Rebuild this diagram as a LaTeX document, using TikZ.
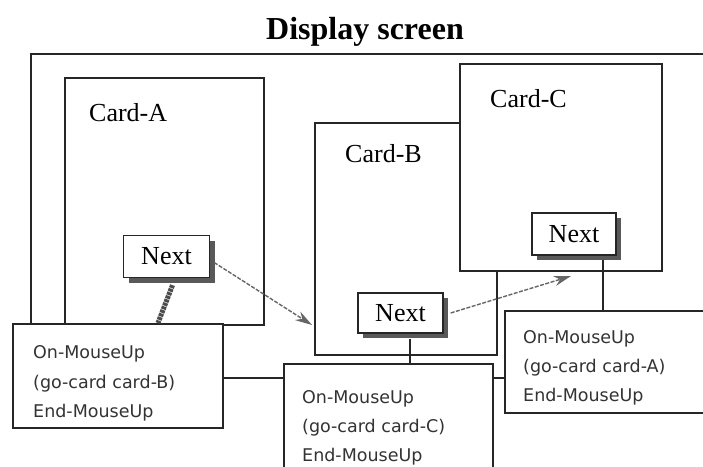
\documentclass[tikz,border=0pt]{standalone}
\usepackage{fontspec}
\setmainfont{Liberation Serif}
\newfontfamily\codefont{DejaVu Sans}
\usetikzlibrary{shadows,arrows.meta,calc}
\begin{document}
\begin{tikzpicture}[x=1pt,y=-1pt,
  frame/.style={draw=black!85,line width=1.7pt},
  box/.style={frame,fill=white,rectangle,inner sep=0pt,anchor=north west},
  btn/.style={draw=black!85,line width=1.3pt,fill=white,inner sep=0pt,minimum width=86pt,minimum height=42pt,
    font=\fontsize{26}{28}\selectfont,
    drop shadow={shadow xshift=5pt,shadow yshift=-5pt,fill=black!65,opacity=1}},
  lbl/.style={anchor=base west,inner sep=0pt,font=\fontsize{26}{28}\selectfont},
  code/.style={anchor=base west,inner sep=0pt,font=\codefont\fontsize{17.5}{19}\selectfont,text=black!80},
  link/.style={draw=black!60,line width=1.4pt,dash pattern=on 4pt off 1.5pt,
    -{Stealth[length=17pt,width=10pt]}},
  thickline/.style={draw=black!70,line width=5pt,dash pattern=on 3pt off 0.8pt},
  tie/.style={draw=black!85,line width=1.5pt},
]
\useasboundingbox (0,0) rectangle (703,466);
\clip (0,0) rectangle (703,466);
\fill[white] (0,0) rectangle (703,466);

% title
\node[font=\bfseries\fontsize{32}{34}\selectfont,anchor=base,inner sep=0pt] (title) at (365,39) {Display screen};

% display screen
\node[box,fill=none,minimum width=700pt,minimum height=324pt] (screen) at (30,53) {};

% cards
\node[box,minimum width=199pt,minimum height=247pt] (cardA) at (64,77) {};
\node[box,minimum width=182pt,minimum height=232pt] (cardB) at (314,122) {};
\node[box,minimum width=202pt,minimum height=207pt] (cardC) at (459,63) {};
\node[lbl] (labA) at (89,121) {Card-A};
\node[lbl] (labB) at (345,162) {Card-B};
\node[lbl] (labC) at (490,107) {Card-C};

% next buttons
\node[btn] (nA) at (166.5,256.5) {Next};
\node[btn,minimum width=85pt,minimum height=40pt] (nB) at (400.5,313) {Next};
\node[btn,minimum width=84pt] (nC) at (574,234) {Next};

% script boxes
\node[box,minimum width=210pt,minimum height=104pt] (sA) at (12,323) {};
\node[box,minimum width=209pt,minimum height=130pt] (sC) at (283,363) {};
\node[box,minimum width=220pt,minimum height=102pt] (sB) at (504,310) {};

% connectors
\coordinate (endA) at (312,325);
\coordinate (endB) at (571,276);
\draw[link] ($(nA.east)+(4,6)$) -- (endA);
\draw[link] ($(nB.east)+(7,0)$) -- (endB);
\draw[thickline] ($(nA.south)+(6,7)$) -- ($(sA.north west)+(146,0)$);
\draw[tie] ([xshift=9.5pt,yshift=-5pt]nB.south) -- ([xshift=9.5pt]nB.south |- sC.north);
\draw[tie] ([xshift=29pt,yshift=-4pt]nC.south) -- ([xshift=29pt]nC.south |- sB.north);

% script texts
\node[code] (a1) at (33,358) {On-MouseUp};
\node[code] (a2) at (33,388) {(go-card card-B)};
\node[code] (a3) at (33,417) {End-MouseUp};
\node[code] (c1) at (302,403) {On-MouseUp};
\node[code] (c2) at (302,432) {(go-card card-C)};
\node[code] (c3) at (302,461) {End-MouseUp};
\node[code] (b1) at (523,343) {On-MouseUp};
\node[code] (b2) at (523,372) {(go-card card-A)};
\node[code] (b3) at (523,401) {End-MouseUp};
\end{tikzpicture}
\end{document}
